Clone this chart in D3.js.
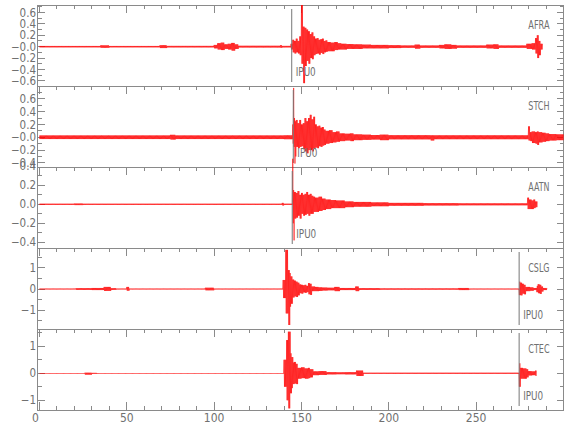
<html>
<head>
  <title>Seismograms</title>
  <script src="https://d3js.org/d3.v7.min.js"></script>
  <style>
    body { margin: 0; background: #fff; }
    text { font-family: "Liberation Sans Narrow", "DejaVu Sans Condensed", sans-serif; fill: #707070; }
  </style>
</head>
<body>
<script>
var width = 580, height = 440;

// station names, top to bottom
const stations = ["AFRA", "STCH", "AATN", "CSLG", "CTEC"];
// y ranges of each panel
const yDomains = [[-0.69, 0.73], [-0.464, 0.80], [-0.46, 0.393], [-1.9, 1.95], [-1.36, 1.64]];
// labelled y ticks per panel
const yTickValues = [
  [-0.6, -0.4, -0.2, 0, 0.2, 0.4, 0.6],
  [-0.4, -0.2, 0, 0.2, 0.4, 0.6],
  [-0.4, -0.2, 0, 0.2, 0.4],
  [-1, 0, 1],
  [-1, 0, 1]
];
const yTickLabels = [
  ["\u22120.6", "\u22120.4", "\u22120.2", "\u22120.0", "0.2", "0.4", "0.6"],
  ["\u22120.4", "\u22120.2", "\u22120.0", "0.2", "0.4", "0.6"],
  ["\u22120.4", "\u22120.2", "0.0", "0.2", "0.4"],
  ["\u22121", "0", "1"],
  ["\u22121", "0", "1"]
];
const yMinorStep = [0.1, 0.1, 0.1, 0.5, 0.5];
const xLabels = [0, 50, 100, 150, 200, 250];
const xMinorStep = 10;

// start / end time of each trace (s)
const traceSpan = [[0, 288], [0, 300], [0, 285], [0, 290.5], [0, 284.6]];
// IPU0 picks (s)
const pickTimes = [144.4, 145.3, 144.7, 274.6, 274.6];
const pickName = "IPU0";

// trace envelopes: [time s, upper peak, lower peak]
const afraEnv = [
  [0,.012,.012],[35,.022,.02],[40,.012,.012],[69,.025,.025],[73,.013,.013],
  [100,.03,.03],[102,.06,.05],[104,.07,.06],[106,.04,.04],[108,.05,.05],[110,.065,.07],[112,.04,.04],[114,.015,.015],
  [138,.025,.02],[139,.013,.013],
  [144,.05,.05],[145,.12,.1],[146,.1,.12],[147,.14,.1],[148,.1,.12],[149,.18,.15],[150,.73,.3],[151,.35,.64],
  [152,.33,.34],[153,.3,.25],[154,.27,.3],[155,.22,.2],[156,.25,.22],[157,.18,.15],[158,.14,.13],[159,.15,.12],
  [160,.12,.14],[161,.13,.11],[162,.14,.13],[163,.1,.1],[164,.11,.09],[165,.08,.08],[167,.07,.08],[169,.08,.06],
  [171,.06,.05],[173,.05,.05],[176,.045,.04],[180,.04,.04],[185,.035,.03],[190,.03,.03],[200,.025,.025],[207,.02,.02],
  [215,.035,.035],[218,.02,.02],[229,.03,.03],[232,.04,.04],[236,.03,.035],[239,.02,.02],
  [256,.035,.03],[260,.04,.04],[263,.02,.02],
  [279,.05,.04],[282,.06,.05],[284,.15,.12],[285,.2,.2],[286,.1,.15],[287,.05,.05]
];
const stchEnv = [
  [0,.028,.028],[75,.038,.035],[78,.028,.028],[140,.03,.03],
  [145,.2,.1],[145.5,.77,.15],[146,.3,.41],[146.5,.25,.3],[147,.27,.15],[148,.22,.17],[149,.27,.15],[150,.2,.14],
  [151,.22,.18],[152,.3,.22],[153,.25,.25],[154,.3,.2],[155,.35,.2],[156,.28,.22],[157,.32,.18],[158,.2,.16],
  [159,.17,.17],[160,.18,.14],[161,.15,.15],[162,.16,.13],[163,.12,.12],[164,.1,.1],[166,.11,.09],[168,.08,.08],
  [170,.09,.07],[172,.06,.06],[175,.055,.05],[178,.06,.06],[180,.045,.045],[185,.04,.04],[190,.035,.035],
  [195,.04,.045],[200,.032,.032],[224,.03,.05],[226,.03,.03],
  [280,.17,.05],[281,.08,.06],[282,.09,.09],[284,.08,.1],[285,.09,.12],[286,.08,.08],[288,.07,.07],
  [290,.06,.06],[292,.05,.05],[296,.045,.045]
];
const aatnEnv = [
  [0,.006,.006],[20,.008,.008],[25,.006,.006],[139,.015,.012],[140,.006,.006],
  [145,.48,.2],[145.5,.15,.38],[146,.13,.15],[147,.12,.14],[148,.14,.12],[149,.1,.15],[150,.12,.1],[151,.1,.12],
  [152,.11,.11],[153,.13,.1],[154,.1,.12],[155,.11,.1],[156,.09,.1],[157,.08,.08],[158,.07,.08],[160,.08,.07],
  [162,.06,.06],[164,.05,.05],[167,.045,.04],[170,.04,.04],[175,.03,.03],[180,.025,.025],[190,.02,.02],
  [200,.015,.015],[220,.012,.012],[240,.01,.01],
  [279.5,.07,.05],[280.5,.05,.05],[282,.04,.05],[283,.05,.04],[284,.03,.03]
];
const cslgEnv = [
  [0,.02,.02],[21,.04,.04],[30,.05,.05],[37,.1,.09],[41,.04,.04],[44,.02,.02],[50,.1,.08],[51.5,.02,.02],
  [95,.06,.06],[100,.02,.02],
  [139.5,.43,.43],[141,1.86,1.16],[142.4,.9,1.71],[143.3,.76,.84],[144,.6,.7],[145,.45,.4],[146,.4,.35],
  [147,.35,.38],[148,.3,.3],[149,.22,.2],[150,.2,.22],[151,.18,.16],[152,.2,.18],[153,.15,.15],[154,.28,.25],
  [155,.25,.28],[156,.12,.1],[158,.1,.1],[160,.08,.09],[162,.07,.07],[165,.06,.06],[169,.1,.1],[172,.05,.05],
  [181,.12,.1],[183,.04,.04],[195,.03,.03],[240,.05,.05],[246,.02,.02],
  [274.6,.35,.29],[275.5,.3,.3],[276.5,.25,.22],[277.5,.2,.25],[278.5,.1,.1],[281,.08,.08],[283,.05,.05],
  [284.6,.15,.15],[285.5,.23,.2],[286.5,.2,.23],[287.5,.12,.12],[288.4,.05,.05]
];
const ctecEnv = [
  [0,.01,.01],[26,.02,.05],[30,.015,.02],[33,.01,.01],
  [140,.5,.5],[141.5,1.23,1.0],[142.4,1.54,1.3],[143.7,.74,.74],[144.5,.6,.55],[145.2,.4,.4],[146,.42,.38],
  [147,.35,.4],[148,.2,.2],[150,.22,.18],[152,.18,.2],[154,.2,.18],[154.8,.15,.15],[156.7,.07,.07],
  [160,.08,.06],[164.3,.04,.04],[170,.035,.035],[175,.04,.04],[181.5,.1,.1],[185.3,.02,.02],
  [274.6,.37,.5],[275.3,.2,.2],[277,.18,.2],[279,.15,.15],[280,.08,.08],[282,.07,.07],[284,.1,.1]
];
const envelopes = [afraEnv, stchEnv, aatnEnv, cslgEnv, ctecEnv];

var frameColor = "#8a8a8a";
var left = 37.5, right = 563.5, top0 = 5, panelH = 81;

var svg = d3.select("body").append("svg")
  .attr("width", width)
  .attr("height", height);

var x = d3.scaleLinear().domain([-1.15, 300]).range([left, right]);
var xMinor = d3.range(0, 300, xMinorStep);
var bisect = d3.bisector(d => d[0]).right;

stations.forEach(function(name, i) {
  var top = top0 + i * panelH, bottom = top + panelH;
  var y = d3.scaleLinear().domain(yDomains[i]).range([bottom, top]);
  var g = svg.append("g");

  // frame
  g.append("rect")
    .attr("x", left).attr("y", top)
    .attr("width", right - left).attr("height", panelH)
    .attr("fill", "none").attr("stroke", frameColor)
    .attr("shape-rendering", "crispEdges");

  // time ticks on the top edge, pointing in
  g.selectAll(".xt").data(xMinor).enter().append("line")
    .attr("x1", d => x(d)).attr("x2", d => x(d))
    .attr("y1", top).attr("y2", d => top + (d % 50 === 0 ? 8 : 4))
    .attr("stroke", frameColor).attr("shape-rendering", "crispEdges");
  if (i === stations.length - 1) {
    g.selectAll(".xb").data(xMinor).enter().append("line")
      .attr("x1", d => x(d)).attr("x2", d => x(d))
      .attr("y1", bottom).attr("y2", d => bottom - (d % 50 === 0 ? 8 : 4))
      .attr("stroke", frameColor).attr("shape-rendering", "crispEdges");
    g.selectAll(".xl").data(xLabels).enter().append("text")
      .attr("x", d => x(d) - (d === 0 ? 4 : 0)).attr("y", bottom + 12)
      .attr("text-anchor", "middle")
      .style("font-size", "12px")
      .text(d => d);
  }

  // y ticks, both sides, pointing in
  var step = yMinorStep[i];
  var d0 = yDomains[i];
  var minor = d3.range(Math.ceil(d0[0] / step - 1e-6), Math.floor(d0[1] / step + 1e-6) + 1).map(k => k * step);
  var major = yTickValues[i];
  var isMajor = v => major.some(m => Math.abs(m - v) < 1e-6);
  [left, right].forEach(function(ax) {
    var dir = ax === left ? 1 : -1;
    g.selectAll(null).data(minor).enter().append("line")
      .attr("x1", ax).attr("x2", d => ax + dir * (isMajor(d) ? 7 : 4))
      .attr("y1", d => y(d)).attr("y2", d => y(d))
      .attr("stroke", frameColor).attr("shape-rendering", "crispEdges");
  });
  g.selectAll(".yl").data(major).enter().append("text")
    .attr("x", left - 1.5).attr("y", d => y(d))
    .attr("dy", "0.36em")
    .attr("text-anchor", "end")
    .style("font-size", "11.5px")
    .text((d, j) => yTickLabels[i][j]);

  // trace: zigzag between upper and lower peaks every 0.25 s
  var env = envelopes[i], span = traceSpan[i], pts = [];
  var n = Math.round((span[1] - span[0]) / 0.25);
  for (var k = 0; k <= n; k++) {
    var t = span[0] + k * 0.25;
    var row = env[Math.max(0, bisect(env, t) - 1)];
    pts.push([t, k % 2 ? -row[2] : row[1]]);
  }
  g.append("path")
    .datum(pts)
    .attr("fill", "none")
    .attr("stroke", "#ff0000")
    .attr("stroke-width", 0.6)
    .attr("d", d3.line().x(d => x(d[0])).y(d => y(d[1])));

  // pick marker
  var px = x(pickTimes[i]);
  g.append("line")
    .attr("x1", px).attr("x2", px)
    .attr("y1", top + 4).attr("y2", bottom - 4)
    .attr("stroke", "#777").attr("stroke-width", 1);
  g.append("text")
    .attr("x", px + 4).attr("y", bottom - 10)
    .attr("textLength", pickName.length * 5)
    .attr("lengthAdjust", "spacingAndGlyphs")
    .style("font-size", "12px")
    .text(pickName);

  // station name
  g.append("text")
    .attr("x", 549.5 - name.length * 5.3).attr("y", top + 24)
    .attr("textLength", name.length * 5.3)
    .attr("lengthAdjust", "spacingAndGlyphs")
    .style("font-size", "13px")
    .text(name);
});
</script>
</body>
</html>
